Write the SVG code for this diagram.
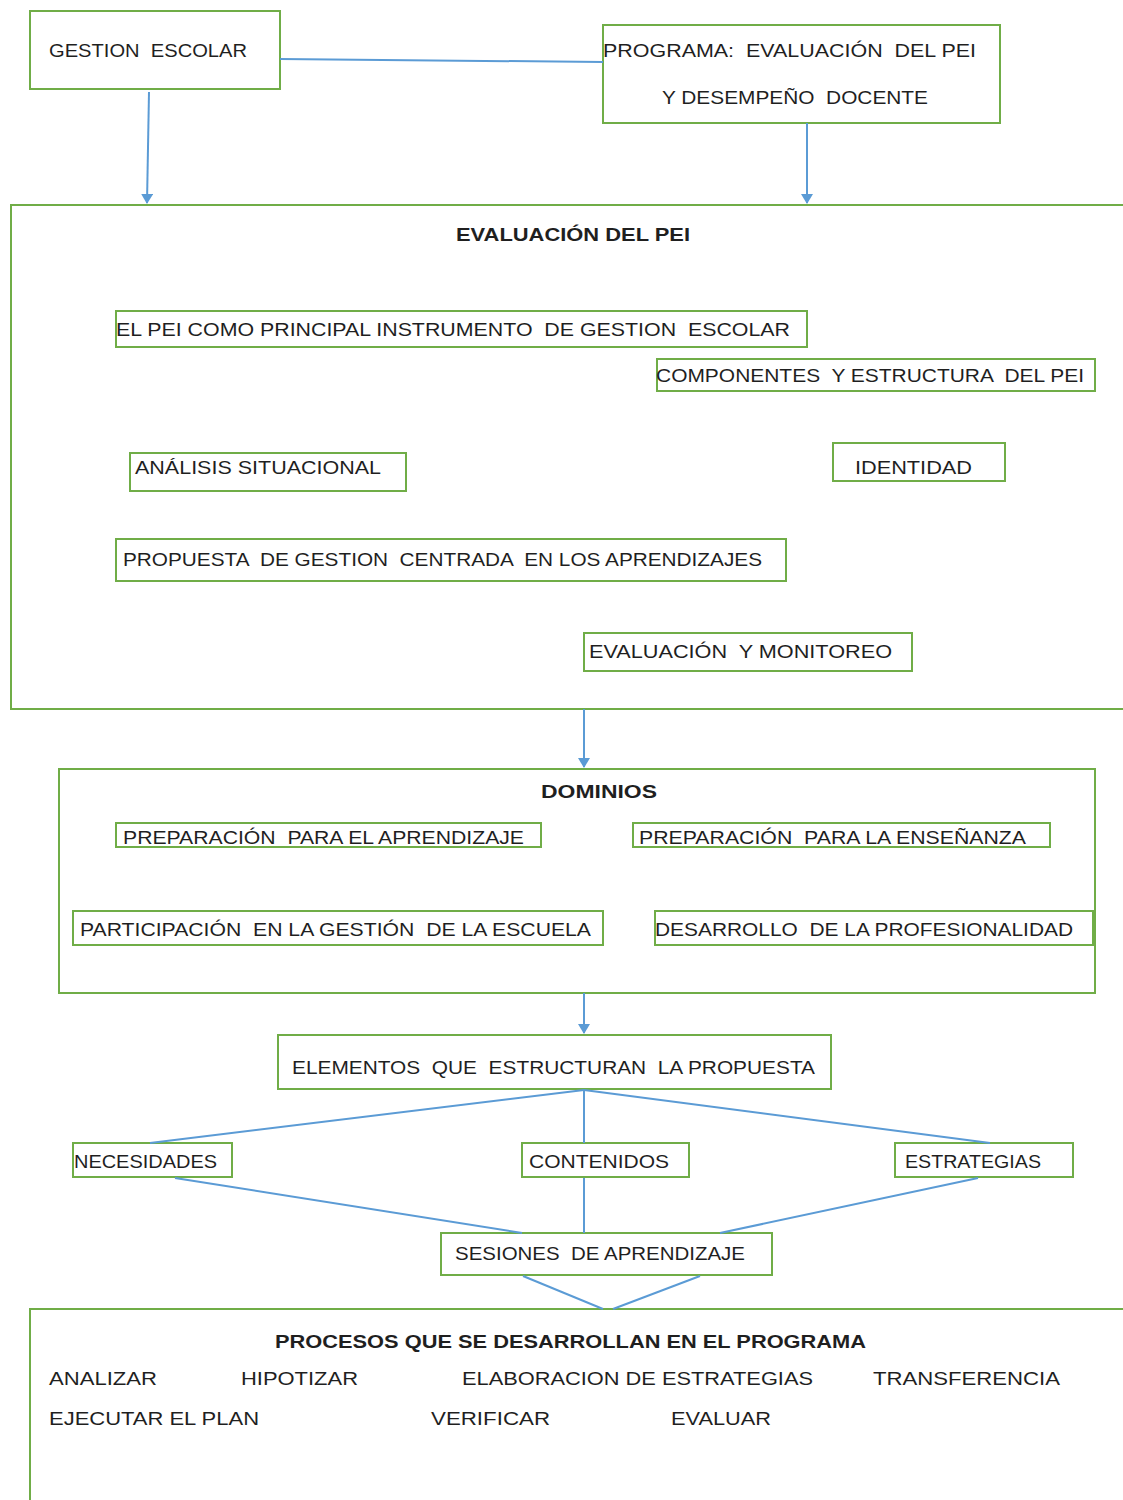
<svg xmlns="http://www.w3.org/2000/svg" width="1123" height="1500" viewBox="0 0 1123 1500">
<style>
.box{fill:#ffffff;stroke:#70ad47;stroke-width:2}
.t{font-family:"Liberation Sans",Arial,sans-serif;font-size:18px;fill:#1f1f1f;white-space:pre}
.b{font-family:"Liberation Sans",Arial,sans-serif;font-size:18px;font-weight:bold;fill:#1f1f1f;white-space:pre}
.c{stroke:#5b9bd5;stroke-width:2;fill:none}
</style>
<defs>
<marker id="ah" markerWidth="12" markerHeight="12" refX="9" refY="6" orient="auto" markerUnits="userSpaceOnUse">
<path d="M0,0 L10,6 L0,12 z" fill="#5b9bd5"/>
</marker>
</defs>
<rect width="1123" height="1500" fill="#ffffff"/>

<g id="n-gestion">
<rect class="box" x="30" y="11" width="250" height="78"/>
<text class="t" x="49" y="57" textLength="198" lengthAdjust="spacingAndGlyphs" xml:space="preserve">GESTION  ESCOLAR</text>
</g>
<g id="n-programa">
<rect class="box" x="603" y="25" width="397" height="98"/>
<text class="t" x="603" y="57" textLength="373" lengthAdjust="spacingAndGlyphs" xml:space="preserve">PROGRAMA:  EVALUACIÓN  DEL PEI</text>
<text class="t" x="662" y="104" textLength="266" lengthAdjust="spacingAndGlyphs" xml:space="preserve">Y DESEMPEÑO  DOCENTE</text>
</g>

<g id="n-evaluacion">
<rect class="box" x="11" y="205" width="1125" height="504"/>
<text class="b" x="456" y="241" textLength="234" lengthAdjust="spacingAndGlyphs">EVALUACIÓN DEL PEI</text>
</g>
<g id="n-pei">
<rect class="box" x="116" y="311" width="691" height="36"/>
<text class="t" x="116" y="336" textLength="674" lengthAdjust="spacingAndGlyphs" xml:space="preserve">EL PEI COMO PRINCIPAL INSTRUMENTO  DE GESTION  ESCOLAR</text>
</g>
<g id="n-componentes">
<rect class="box" x="657" y="359" width="438" height="32"/>
<text class="t" x="656" y="382" textLength="428" lengthAdjust="spacingAndGlyphs" xml:space="preserve">COMPONENTES  Y ESTRUCTURA  DEL PEI</text>
</g>
<g id="n-analisis">
<rect class="box" x="130" y="453" width="276" height="38"/>
<text class="t" x="135" y="474" textLength="246" lengthAdjust="spacingAndGlyphs">ANÁLISIS SITUACIONAL</text>
</g>
<g id="n-identidad">
<rect class="box" x="833" y="443" width="172" height="38"/>
<text class="t" x="855" y="474" textLength="117" lengthAdjust="spacingAndGlyphs">IDENTIDAD</text>
</g>
<g id="n-propuesta">
<rect class="box" x="116" y="539" width="670" height="42"/>
<text class="t" x="123" y="566" textLength="639" lengthAdjust="spacingAndGlyphs" xml:space="preserve">PROPUESTA  DE GESTION  CENTRADA  EN LOS APRENDIZAJES</text>
</g>
<g id="n-monitoreo">
<rect class="box" x="584" y="633" width="328" height="38"/>
<text class="t" x="589" y="658" textLength="303" lengthAdjust="spacingAndGlyphs" xml:space="preserve">EVALUACIÓN  Y MONITOREO</text>
</g>

<g id="n-dominios">
<rect class="box" x="59" y="769" width="1036" height="224"/>
<text class="b" x="541" y="798" textLength="116" lengthAdjust="spacingAndGlyphs">DOMINIOS</text>
</g>
<g id="n-prep-aprendizaje">
<rect class="box" x="116" y="823" width="425" height="24"/>
<text class="t" x="123" y="844" textLength="401" lengthAdjust="spacingAndGlyphs" xml:space="preserve">PREPARACIÓN  PARA EL APRENDIZAJE</text>
</g>
<g id="n-prep-ensenanza">
<rect class="box" x="633" y="823" width="417" height="24"/>
<text class="t" x="639" y="844" textLength="387" lengthAdjust="spacingAndGlyphs" xml:space="preserve">PREPARACIÓN  PARA LA ENSEÑANZA</text>
</g>
<g id="n-participacion">
<rect class="box" x="73" y="911" width="530" height="34"/>
<text class="t" x="80" y="936" textLength="511" lengthAdjust="spacingAndGlyphs" xml:space="preserve">PARTICIPACIÓN  EN LA GESTIÓN  DE LA ESCUELA</text>
</g>
<g id="n-desarrollo">
<rect class="box" x="655" y="911" width="438" height="34"/>
<text class="t" x="655" y="936" textLength="418" lengthAdjust="spacingAndGlyphs" xml:space="preserve">DESARROLLO  DE LA PROFESIONALIDAD</text>
</g>

<g id="n-elementos">
<rect class="box" x="278" y="1035" width="553" height="54"/>
<text class="t" x="292" y="1074" textLength="523" lengthAdjust="spacingAndGlyphs" xml:space="preserve">ELEMENTOS  QUE  ESTRUCTURAN  LA PROPUESTA</text>
</g>
<g id="n-necesidades">
<rect class="box" x="73" y="1143" width="159" height="34"/>
<text class="t" x="74" y="1168" textLength="143" lengthAdjust="spacingAndGlyphs">NECESIDADES</text>
</g>
<g id="n-contenidos">
<rect class="box" x="522" y="1143" width="167" height="34"/>
<text class="t" x="529" y="1168" textLength="140" lengthAdjust="spacingAndGlyphs">CONTENIDOS</text>
</g>
<g id="n-estrategias">
<rect class="box" x="895" y="1143" width="178" height="34"/>
<text class="t" x="905" y="1168" textLength="136" lengthAdjust="spacingAndGlyphs">ESTRATEGIAS</text>
</g>
<g id="n-sesiones">
<rect class="box" x="441" y="1233" width="331" height="42"/>
<text class="t" x="455" y="1260" textLength="290" lengthAdjust="spacingAndGlyphs" xml:space="preserve">SESIONES  DE APRENDIZAJE</text>
</g>

<g id="n-procesos">
<rect class="box" x="30" y="1309" width="1110" height="200"/>
<text class="b" x="275" y="1348" textLength="591" lengthAdjust="spacingAndGlyphs">PROCESOS QUE SE DESARROLLAN EN EL PROGRAMA</text>
<text class="t" x="49" y="1385" textLength="108" lengthAdjust="spacingAndGlyphs">ANALIZAR</text>
<text class="t" x="241" y="1385" textLength="117" lengthAdjust="spacingAndGlyphs">HIPOTIZAR</text>
<text class="t" x="462" y="1385" textLength="351" lengthAdjust="spacingAndGlyphs">ELABORACION DE ESTRATEGIAS</text>
<text class="t" x="873" y="1385" textLength="187" lengthAdjust="spacingAndGlyphs">TRANSFERENCIA</text>
<text class="t" x="49" y="1425" textLength="210" lengthAdjust="spacingAndGlyphs">EJECUTAR EL PLAN</text>
<text class="t" x="431" y="1425" textLength="119" lengthAdjust="spacingAndGlyphs">VERIFICAR</text>
<text class="t" x="671" y="1425" textLength="100" lengthAdjust="spacingAndGlyphs">EVALUAR</text>
</g>

<g id="connectors">
<path class="c" d="M280,59 L603,62"/>
<path class="c" d="M149,92 L147,203" marker-end="url(#ah)"/>
<path class="c" d="M807,123 L807,203" marker-end="url(#ah)"/>
<path class="c" d="M584,709 L584,767" marker-end="url(#ah)"/>
<path class="c" d="M584,993 L584,1033" marker-end="url(#ah)"/>
<path class="c" d="M584,1090 L150,1143"/>
<path class="c" d="M584,1090 L584,1143"/>
<path class="c" d="M584,1090 L990,1143"/>
<path class="c" d="M175,1178 L522,1233"/>
<path class="c" d="M584,1178 L584,1233"/>
<path class="c" d="M978,1178 L720,1233"/>
<path class="c" d="M523,1276 L603,1309"/>
<path class="c" d="M700,1276 L613,1309"/>
</g>
</svg>
